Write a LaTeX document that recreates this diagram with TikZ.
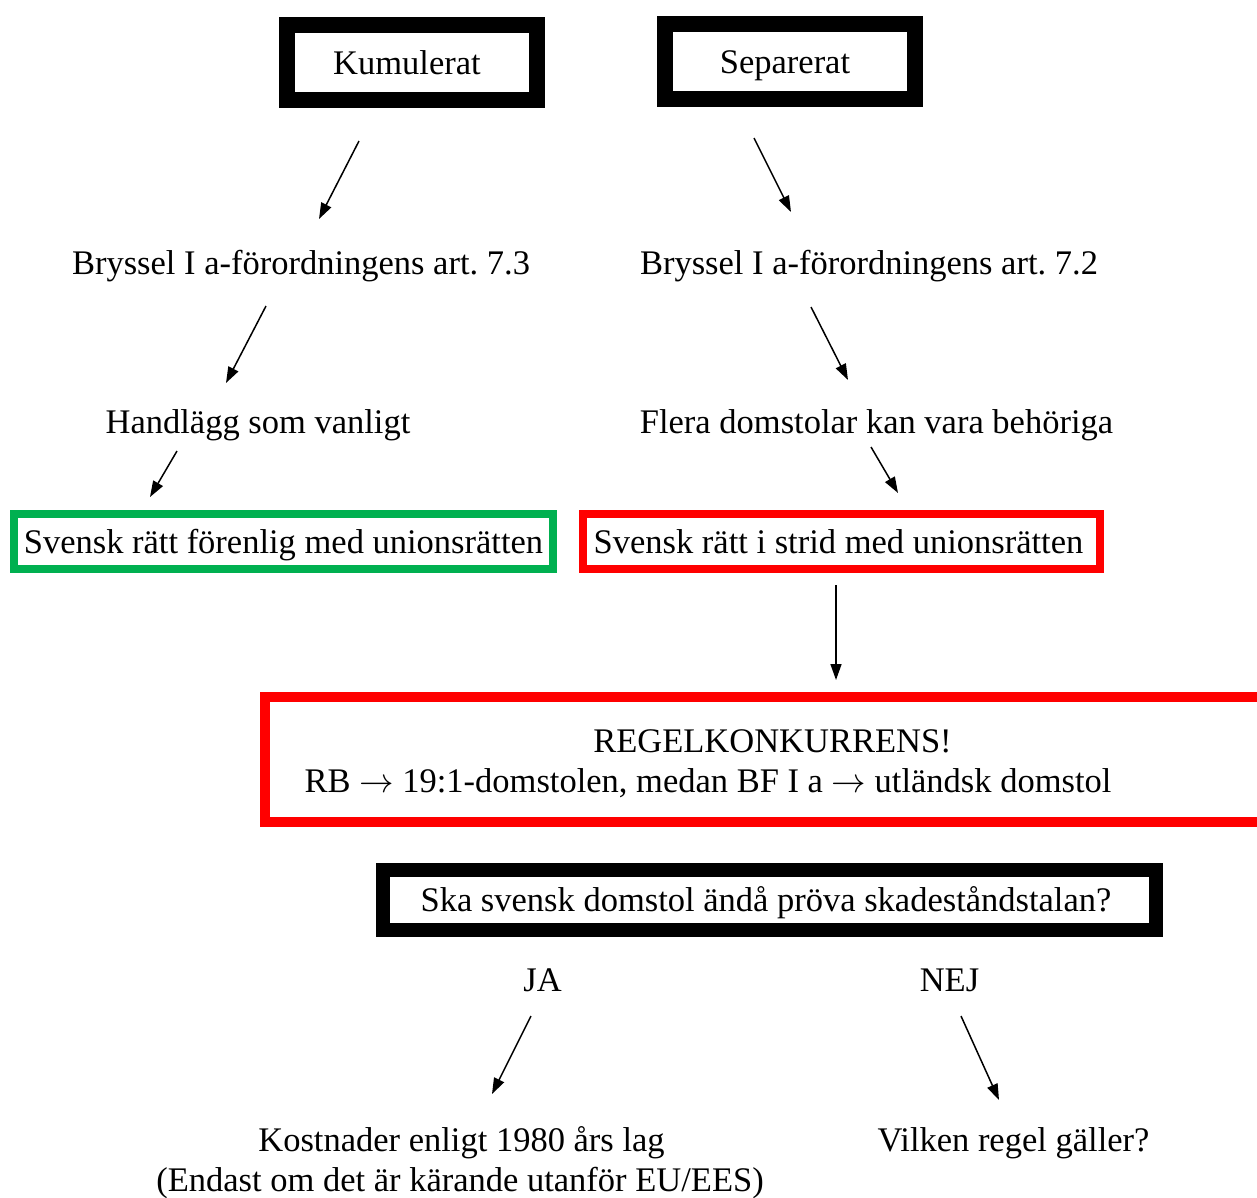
\documentclass[tikz,border=0pt]{standalone}
\usepackage{fontspec}
\usepackage{graphicx}
\setmainfont{Liberation Serif}
\usetikzlibrary{arrows.meta}
\definecolor{boxgreen}{RGB}{0,176,80}
\definecolor{boxred}{RGB}{255,0,0}
\newcommand{\bigarrow}{{\fontsize{10}{12}\selectfont\scalebox{3.45}{$\rightarrow$}}}
\newcommand{\padr}[1]{\rule{#1}{0pt}}
\begin{document}
\frenchspacing
\begin{tikzpicture}[x=1pt,y=-1pt,
  every node/.style={inner sep=0pt,outer sep=0pt,font=\fontsize{34.5}{40}\selectfont},
  txt/.style={anchor=base},
  boxnode/.style={draw,line join=miter,text height=23pt,text depth=0pt},
  arr/.style={line width=1.5pt,-{Triangle[length=16pt,width=11pt]}}]
\useasboundingbox (0,0) rectangle (1257,1197);

% top boxes
\node[boxnode,line width=16pt,minimum width=250pt,minimum height=75pt] (kum) at (412,62.5) {Kumulerat\padr{10pt}};
\node[boxnode,line width=16pt,minimum width=250pt,minimum height=75pt] (sep) at (790,61.5) {Separerat\padr{10pt}};

% texts
\node[txt] (bry3) at (301,274) {Bryssel I a-förordningens art. 7.3};
\node[txt] (bry2) at (869,274) {Bryssel I a-förordningens art. 7.2};
\node[txt] (hand) at (258,433) {Handlägg som vanligt};
\node[txt] (flera) at (876.5,433) {Flera domstolar kan vara behöriga};

% coloured boxes
\node[boxnode,draw=boxgreen,line width=8pt,minimum width=539pt,minimum height=55pt] (forenlig) at (283.5,541.5) {Svensk rätt förenlig med unionsrätten};
\node[boxnode,draw=boxred,line width=8pt,minimum width=517pt,minimum height=55pt] (strid) at (841.5,541.5) {Svensk rätt i strid med unionsrätten\padr{6pt}};

% big red box
\node[draw=boxred,line width=10pt,minimum width=1014pt,minimum height=125pt] (regel) at (772,759.5) {};
\node[txt] (regelA) at (772.5,752) {REGELKONKURRENS!};
\node[txt] (regelB) at (708,792) {RB \bigarrow{} 19:1-domstolen, medan BF I a \bigarrow{} utländsk domstol};

% question box
\node[boxnode,line width=14pt,minimum width=773pt,minimum height=60pt] (fraga) at (769.5,900) {Ska svensk domstol ändå pröva skadeståndstalan?\padr{7pt}};

\node[txt] (ja) at (542.5,991) {JA};
\node[txt] (nej) at (949.5,991) {NEJ};
\node[txt] (kost) at (461.5,1151) {Kostnader enligt 1980 års lag};
\node[txt] (kost2) at (460,1191) {(Endast om det är kärande utanför EU/EES)};
\node[txt] (vilken) at (1013.5,1151) {Vilken regel gäller?};

% arrow end points
\coordinate (a1s) at (359,141); \coordinate (a1e) at (319,219);
\coordinate (a2s) at (754,138); \coordinate (a2e) at (791,212);
\coordinate (a3s) at (266,306); \coordinate (a3e) at (226,383);
\coordinate (a4s) at (811,307); \coordinate (a4e) at (848,380);
\coordinate (a5s) at (177,451); \coordinate (a5e) at (150,497);
\coordinate (a6s) at (871,447); \coordinate (a6e) at (898,493);
\coordinate (a7s) at (836,585); \coordinate (a7e) at (836,680);
\coordinate (a8s) at (531,1016); \coordinate (a8e) at (492,1094);
\coordinate (a9s) at (961,1016); \coordinate (a9e) at (999,1100);

\draw[arr] (a1s) -- (a1e);
\draw[arr] (a2s) -- (a2e);
\draw[arr] (a3s) -- (a3e);
\draw[arr] (a4s) -- (a4e);
\draw[arr] (a5s) -- (a5e);
\draw[arr] (a6s) -- (a6e);
\draw[arr] (a7s) -- (a7e);
\draw[arr] (a8s) -- (a8e);
\draw[arr] (a9s) -- (a9e);
\end{tikzpicture}
\end{document}
